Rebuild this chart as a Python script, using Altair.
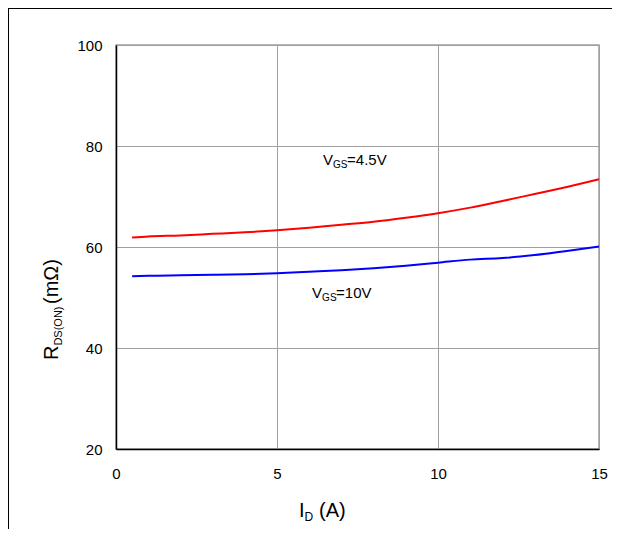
import altair as alt
import pandas as pd

# ---- data ----
id_a = [0.5, 1, 2, 3, 4, 5, 6, 7, 8, 9, 10, 11, 12, 13, 14, 15]
rds_vgs45 = [61.9, 62.1, 62.3, 62.6, 62.9, 63.3, 63.8, 64.4, 65.0, 65.8, 66.7, 67.8, 69.1, 70.5, 71.9, 73.4]
rds_vgs10 = [54.2, 54.3, 54.4, 54.5, 54.6, 54.8, 55.1, 55.4, 55.8, 56.3, 56.9, 57.5, 57.8, 58.4, 59.2, 60.1]
series_names = ["VGS=4.5V", "VGS=10V"]
series_colors = ["#ff0000", "#0000ff"]
x_ticks = [0, 5, 10, 15]
y_ticks = [20, 40, 60, 80, 100]

FONT = "Liberation Sans"
GRID = "#a0a0a0"

df = pd.DataFrame({
    "id": id_a * 2,
    "rds": rds_vgs45 + rds_vgs10,
    "series": [series_names[0]] * len(id_a) + [series_names[1]] * len(id_a),
})

xs = alt.Scale(domain=[0, 15], nice=False, zero=False)
ys = alt.Scale(domain=[20, 100], nice=False, zero=False)

lines = alt.Chart(df).mark_line(strokeWidth=2, interpolate="monotone").encode(
    x=alt.X("id:Q", scale=xs, axis=alt.Axis(
        values=x_ticks, title=None, grid=True, gridColor=GRID, gridOpacity=1,
        domainColor="black", domainWidth=1.5, ticks=False, labelFont=FONT,
        labelFontSize=15, labelColor="black", labelPadding=17,
        labelFlush=False, labelBound=False, labelOverlap=False)),
    y=alt.Y("rds:Q", scale=ys, axis=alt.Axis(
        values=y_ticks, title=None, grid=True, gridColor=GRID, gridOpacity=1,
        domainColor="black", domainWidth=1.5, ticks=False, labelFont=FONT,
        labelFontSize=15, labelColor="black", labelPadding=14,
        labelFlush=False, labelBound=False, labelOverlap=False)),
    color=alt.Color("series:N", scale=alt.Scale(domain=series_names, range=series_colors), legend=None),
)

# ---- in-plot labels (main text + subscript) ----
lab = pd.DataFrame({"id": [6.43, 6.09], "rds": [76.3, 50.0],
                    "a": ["V", "V"], "b": ["GS", "GS"], "c": ["=4.5V", "=10V"]})
base_lab = alt.Chart(lab).encode(x=alt.X("id:Q", scale=xs), y=alt.Y("rds:Q", scale=ys))
lab_a = base_lab.mark_text(align="left", baseline="alphabetic", font=FONT, fontSize=15, color="black").encode(text="a:N")
lab_b = base_lab.mark_text(align="left", baseline="alphabetic", font=FONT, fontSize=10, color="black", dx=10, dy=3).encode(text="b:N")
lab_c = base_lab.mark_text(align="left", baseline="alphabetic", font=FONT, fontSize=15, color="black", dx=24).encode(text="c:N")

# ---- axis titles with subscripts ----
tx = pd.DataFrame({"a": ["I"], "b": ["D"], "c": ["(A)"]})
xt_a = alt.Chart(tx).mark_text(align="left", baseline="alphabetic", font=FONT, fontSize=20, color="black").encode(
    text="a:N", x=alt.value(183), y=alt.value(472))
xt_b = alt.Chart(tx).mark_text(align="left", baseline="alphabetic", font=FONT, fontSize=12, color="black").encode(
    text="b:N", x=alt.value(188.6), y=alt.value(476))
xt_c = alt.Chart(tx).mark_text(align="left", baseline="alphabetic", font=FONT, fontSize=20, color="black").encode(
    text="c:N", x=alt.value(203), y=alt.value(472))

ty = pd.DataFrame({"a": ["R"], "b": ["DS(ON)"], "c": ["(mΩ)"]})
yt_a = alt.Chart(ty).mark_text(angle=270, align="left", baseline="alphabetic", font=FONT, fontSize=20, color="black").encode(
    text="a:N", x=alt.value(-58), y=alt.value(315))
yt_b = alt.Chart(ty).mark_text(angle=270, align="left", baseline="alphabetic", font=FONT, fontSize=11, color="black").encode(
    text="b:N", x=alt.value(-54), y=alt.value(300.6))
yt_c = alt.Chart(ty).mark_text(angle=270, align="left", baseline="alphabetic", font=FONT, fontSize=20, color="black").encode(
    text="c:N", x=alt.value(-58), y=alt.value(259))

# ---- outer frame lines of the figure ----
fr = pd.DataFrame({"k": [0]})
top_line = alt.Chart(fr).mark_rule(color="black", strokeWidth=1).encode(
    x=alt.value(-108), x2=alt.value(499), y=alt.value(-36.5))
left_line = alt.Chart(fr).mark_rule(color="black", strokeWidth=1).encode(
    x=alt.value(-107.5), y=alt.value(-37), y2=alt.value(484))

chart = alt.layer(
    lines, lab_a, lab_b, lab_c, xt_a, xt_b, xt_c, yt_a, yt_b, yt_c, top_line, left_line
).properties(
    width=483, height=404,
    autosize=alt.AutoSizeParams(type="none"),
    padding={"left": 108, "top": 37, "right": 13, "bottom": 80},
).configure_view(stroke=GRID, strokeWidth=1.5)

chart.save("out.html", embed_options={"renderer": "svg", "actions": False})
